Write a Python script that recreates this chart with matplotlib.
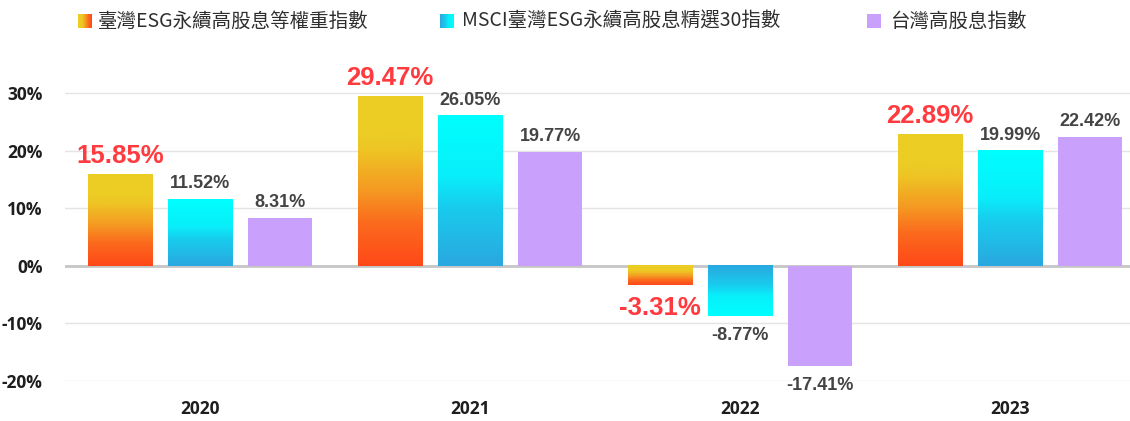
import numpy as np
import matplotlib.pyplot as plt
from matplotlib.colors import LinearSegmentedColormap

# data
years = ['2020', '2021', '2022', '2023']
series_names = ['臺灣ESG永續高股息等權重指數', 'MSCI臺灣ESG永續高股息精選30指數', '台灣高股息指數']
esg_equal = [15.85, 29.47, -3.31, 22.89]      # highlighted series (red labels)
msci_esg30 = [11.52, 26.05, -8.77, 19.99]
tw_high_div = [8.31, 19.77, -17.41, 22.42]
y_ticks = [-20, -10, 0, 10, 20, 30]

# colours
orange_cmap = LinearSegmentedColormap.from_list('orange', [
    (0.0, '#ff4819'), (0.25, '#fb6a1d'), (0.45, '#f59a22'),
    (0.68, '#eec424'), (0.78, '#eccd24'), (1.0, '#eccd24')])
cyan_cmap = LinearSegmentedColormap.from_list('cyan', [
    (0.0, '#2aa7df'), (0.4, '#18cdee'), (0.6, '#08effa'), (1.0, '#00ffff')])
purple = '#c9a1fc'

W, H = 1130, 421
fig = plt.figure(figsize=(W / 100, H / 100), dpi=100)
ax = fig.add_axes([65 / W, 40 / H, 1065 / W, 305.3 / H])

x = np.arange(len(years))
width = 64 / 270
step = 80 / 270
grad = np.linspace(0, 1, 256).reshape(-1, 1)


def gradient_bars(bars, cmap, flip_negative):
    for r in bars:
        x0, w = r.get_x(), r.get_width()
        y0, y1 = sorted([r.get_y(), r.get_y() + r.get_height()])
        g = grad
        if flip_negative and r.get_height() < 0:
            g = grad[::-1]
        ax.imshow(g, cmap=cmap, extent=[x0, x0 + w, y0, y1], origin='lower',
                  aspect='auto', zorder=2, interpolation='bilinear')


b1 = ax.bar(x - step, esg_equal, width, color='none', zorder=2)
b2 = ax.bar(x, msci_esg30, width, color='none', zorder=2)
b3 = ax.bar(x + step, tw_high_div, width, color=purple, zorder=2)
gradient_bars(b1, orange_cmap, False)
gradient_bars(b2, cyan_cmap, True)

# value labels
label_font = ['Liberation Sans', 'DejaVu Sans']
for bars, vals, big in [(b1, esg_equal, True), (b2, msci_esg30, False), (b3, tw_high_div, False)]:
    for r, v in zip(bars, vals):
        xc = r.get_x() + r.get_width() / 2
        if v >= 0:
            off, va = 8, 'baseline'
        else:
            off, va = -8, 'top'
        ax.annotate(f'{v:.2f}%', (xc, v), xytext=(0, off), textcoords='offset points',
                    ha='center', va=va, fontweight='bold', family=label_font,
                    fontsize=18.5 if big else 13,
                    color='#ff3b3f' if big else '#444444', zorder=5)

tick_font = ['Open Sans', 'DejaVu Sans']
ax.set_xlim(-0.5, 3.444)
ax.set_ylim(-20, 33)
ax.set_yticks(y_ticks)
ax.set_yticklabels([f'{t}%' for t in y_ticks], fontsize=12.5, fontweight='bold',
                   family=tick_font, color='#1e1e1e')
ax.set_xticks(x)
ax.set_xticklabels(years, fontsize=12.5, fontweight='bold',
                   family=tick_font, color='#1e1e1e')
ax.tick_params(axis='y', length=0, pad=16)
ax.tick_params(axis='x', length=0, pad=14)
for s in ax.spines.values():
    s.set_visible(False)
ax.set_axisbelow(True)
ax.yaxis.grid(True, color='#e4e4e4', lw=1)
ax.axhline(0, color='#c6c6c6', lw=2, zorder=1)

# legend drawn by hand (gradient swatches)
legend_items = [(78, 98, orange_cmap, True), (440, 462, cyan_cmap, False), (867, 890, None, False)]
hgrad = np.linspace(0, 1, 64).reshape(1, -1)
for (px, tx, cmap, rev), name in zip(legend_items, series_names):
    lax = fig.add_axes([px / W, 1 - 28 / H, 14 / W, 14 / H])
    if cmap is None:
        lax.imshow([[0]], cmap=LinearSegmentedColormap.from_list('p', [purple, purple]), aspect='auto')
    else:
        lax.imshow(hgrad[:, ::-1] if rev else hgrad, cmap=cmap, aspect='auto')
    lax.axis('off')
    fig.text(tx / W, 1 - 21 / H, name, va='center', ha='left', fontsize=14,
             family=['Noto Sans CJK TC', 'DejaVu Sans'], color='#2e2e2e')

fig.savefig('out.png', dpi=100)
